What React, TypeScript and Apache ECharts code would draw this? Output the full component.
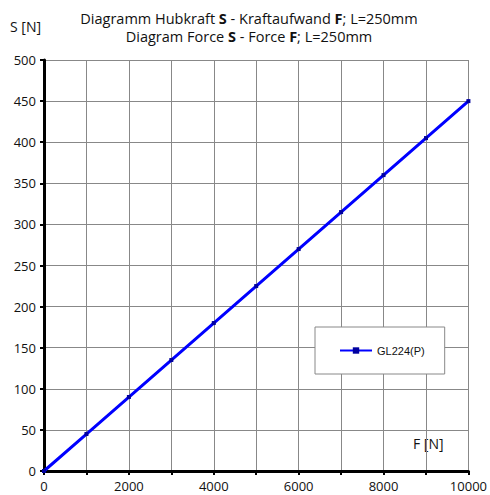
import React, { useEffect, useRef } from "react";
import * as echarts from "echarts";

const forceF = [0, 1000, 2000, 3000, 4000, 5000, 6000, 7000, 8000, 9000, 10000];
const liftS = [0, 45, 90, 135, 180, 225, 270, 315, 360, 405, 450];
const seriesName = "GL224(P)";
const titleLine1 = ["Diagramm Hubkraft ", "S", " - Kraftaufwand ", "F", "; L=250mm"];
const titleLine2 = ["Diagram Force ", "S", " - Force ", "F", "; L=250mm"];

export default function App() {
  const ref = useRef<HTMLDivElement>(null);
  useEffect(() => {
    const chart = echarts.init(ref.current!, null, { renderer: "svg" });
    const fontFamily = "'Open Sans', 'Noto Sans', sans-serif";
    const mk = (parts: string[]) =>
      parts.map((p, i) => (i === 1 || i === 3 ? `{b|${p}}` : `{n|${p}}`)).join("");
    chart.setOption({
      animation: false,
      backgroundColor: "#ffffff",
      textStyle: { fontFamily },
      title: {
        text: mk(titleLine1) + "\n" + mk(titleLine2),
        left: 244,
        top: 4,
        textAlign: "center",
        textStyle: {
          fontWeight: "normal",
          rich: {
            n: { fontSize: 14.5, color: "#111", fontWeight: "normal", fontFamily, lineHeight: 18 },
            b: { fontSize: 14.5, color: "#111", fontWeight: "bold", fontFamily, lineHeight: 18 },
          },
        },
      },
      graphic: [
        { type: "text", left: 10, top: 19, style: { text: "S [N]", font: `14px ${fontFamily}`, fill: "#111" } },
        { type: "text", left: 413, top: 436, style: { text: "F [N]", font: `14px ${fontFamily}`, fill: "#111" } },
      ],
      legend: {
        data: [seriesName],
        left: 315,
        top: 327,
        padding: [18, 20, 18, 24],
        backgroundColor: "#ffffff",
        borderColor: "#888",
        borderWidth: 1,
        itemWidth: 32,
        itemHeight: 8,
        itemGap: 2,
        textStyle: { fontFamily: "'Liberation Sans', Arial, sans-serif", fontSize: 11, color: "#111" },
      },
      grid: { left: 44, right: 19, top: 60, bottom: 24 },
      xAxis: {
        type: "value",
        min: 0,
        max: 10000,
        interval: 1000,
        axisLine: { lineStyle: { color: "#000", width: 3 } },
        axisTick: { show: true, length: 4, lineStyle: { color: "#000", width: 2 } },
        axisLabel: {
          interval: 1,
          formatter: (v: number) => (v % 2000 === 0 ? String(v) : ""),
          fontSize: 13,
          color: "#111",
          margin: 8,
        },
        splitLine: { show: true, lineStyle: { color: "#888", width: 1 } },
      },
      yAxis: {
        type: "value",
        min: 0,
        max: 500,
        interval: 50,
        axisLine: { show: true, lineStyle: { color: "#000", width: 3 } },
        axisTick: { show: true, length: 4, lineStyle: { color: "#000", width: 2 } },
        axisLabel: { fontSize: 13, color: "#111", margin: 8 },
        splitLine: { show: true, lineStyle: { color: "#888", width: 1 } },
      },
      series: [
        {
          name: seriesName,
          type: "line",
          data: forceF.map((f, i) => [f, liftS[i]]),
          symbol: "rect",
          symbolSize: 4,
          lineStyle: { color: "#0000ff", width: 3 },
          itemStyle: { color: "#0000a0" },
          z: 5,
        },
      ],
    });
    return () => chart.dispose();
  }, []);
  return <div ref={ref} style={{ width: 490, height: 495, position: "absolute", left: 0, top: 0 }} />;
}
